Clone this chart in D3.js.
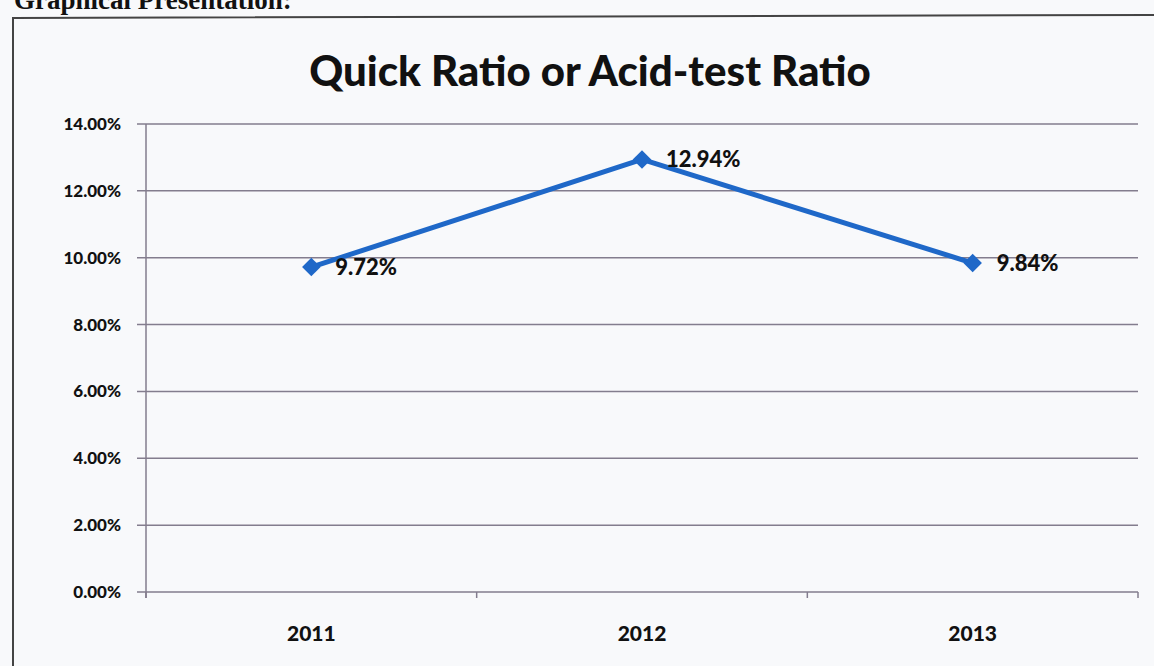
<!DOCTYPE html>
<html>
<head>
<meta charset="utf-8">
<script src="https://cdn.jsdelivr.net/npm/d3@7.9.0/dist/d3.min.js"></script>
<style>
  html, body { margin: 0; padding: 0; background: #f8f9fb; }
  svg { display: block; }
</style>
</head>
<body>
<svg id="chart" width="1154" height="666"></svg>
<script>
const years = ['2011', '2012', '2013'];
const quickRatio = [9.72, 12.94, 9.84];
const yTicks = [0, 2, 4, 6, 8, 10, 12, 14];

const svg = d3.select('#chart');
const W = 1154, H = 666;
const margin = { left: 146, right: 16, top: 124, bottom: 74 };

// page heading, cut off by the scan
svg.append('text')
  .attr('x', 14).attr('y', 9)
  .attr('font-family', 'Liberation Serif')
  .attr('font-weight', 'bold')
  .attr('font-size', 27)
  .attr('fill', '#111')
  .text('Graphical Presentation:');

// chart frame (runs off right and bottom)
svg.append('path')
  .attr('d', `M13,${H + 5} L13,18 L${W + 5},15`)
  .attr('fill', 'none')
  .attr('stroke', '#444')
  .attr('stroke-width', 2);

svg.append('text')
  .attr('x', 590).attr('y', 86)
  .attr('text-anchor', 'middle')
  .attr('font-family', 'Lato')
  .attr('font-weight', 900)
  .attr('font-size', 42)
  .attr('fill', '#111')
  .text('Quick Ratio or Acid-test Ratio');

const x = d3.scaleBand()
  .domain(years)
  .range([margin.left, W - margin.right]);

const y = d3.scaleLinear()
  .domain([0, 14])
  .range([H - margin.bottom, margin.top]);

const gridColor = '#837d8e';

// gridlines
svg.append('g')
  .selectAll('line')
  .data(yTicks)
  .join('line')
  .attr('x1', margin.left - 9)
  .attr('x2', W - margin.right)
  .attr('y1', d => y(d))
  .attr('y2', d => y(d))
  .attr('stroke', gridColor)
  .attr('stroke-width', 1.5);

// y axis
const yAxis = svg.append('g')
  .attr('transform', `translate(${margin.left},0)`)
  .call(d3.axisLeft(y).tickValues(yTicks).tickSize(9).tickPadding(16)
    .tickFormat(d => d3.format('.2f')(d) + '%'));
yAxis.select('.domain').attr('stroke', gridColor).attr('stroke-width', 1.5)
  .attr('d', `M0,${y(14)}V${y(0) + 6}`);
yAxis.selectAll('.tick line').remove();
yAxis.selectAll('.tick text')
  .attr('font-family', 'Lato').attr('font-weight', 900)
  .attr('font-size', 17).attr('fill', '#111');

// x axis: ticks at category boundaries
const xAxis = svg.append('g')
  .attr('transform', `translate(0,${y(0)})`)
  .call(d3.axisBottom(x).tickSize(0).tickPadding(34));
xAxis.select('.domain').remove();
xAxis.selectAll('.tick text')
  .attr('font-family', 'Lato').attr('font-weight', 900)
  .attr('font-size', 21).attr('fill', '#111');
const bounds = years.map(d => x(d)).concat([x(years[years.length - 1]) + x.bandwidth()]);
xAxis.selectAll('line.bound')
  .data(bounds)
  .join('line')
  .attr('class', 'bound')
  .attr('x1', d => d).attr('x2', d => d)
  .attr('y1', 0).attr('y2', 6)
  .attr('stroke', gridColor).attr('stroke-width', 1.5);

const blue = '#1f68c8';
const pts = years.map((yr, i) => ({ yr, v: quickRatio[i] }));
const cx = d => x(d.yr) + x.bandwidth() / 2;

svg.append('path')
  .datum(pts)
  .attr('d', d3.line().x(cx).y(d => y(d.v)))
  .attr('fill', 'none')
  .attr('stroke', blue)
  .attr('stroke-width', 5)
  .attr('stroke-linejoin', 'round');

svg.append('g')
  .selectAll('path')
  .data(pts)
  .join('path')
  .attr('transform', d => `translate(${cx(d)},${y(d.v)})`)
  .attr('d', d3.symbol(d3.symbolDiamond2, 220))
  .attr('fill', blue);

svg.append('g')
  .selectAll('text')
  .data(pts)
  .join('text')
  .attr('x', d => cx(d) + 24)
  .attr('y', d => y(d.v) + 8)
  .attr('font-family', 'Lato').attr('font-weight', 900)
  .attr('font-size', 22).attr('fill', '#111')
  .text(d => d3.format('.2f')(d.v) + '%');
</script>
</body>
</html>
